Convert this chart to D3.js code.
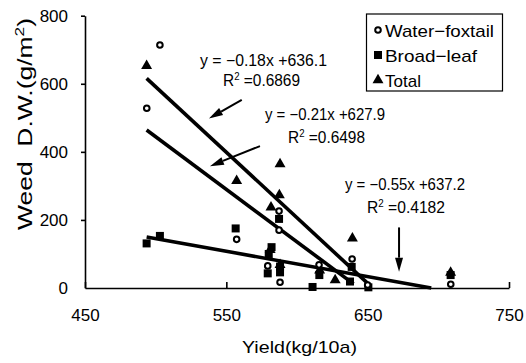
<!DOCTYPE html>
<html>
<head>
<meta charset="utf-8">
<script src="https://cdn.jsdelivr.net/npm/d3@7"></script>
<style>
  body { margin: 0; background: #fff; }
  svg { display: block; font-family: "Liberation Sans", Arial, sans-serif; }
  .axis path, .axis line { stroke: #000; stroke-width: 1.6; }
  .axis text { font-size: 17px; fill: #000; }
</style>
</head>
<body>
<div id="chart"></div>
<script>
// yield (kg/10a) vs weed dry weight (g/m2)
const foxtailX = [503, 493.7, 557.3, 587.3, 587.3, 579.3, 588, 615.6, 639, 650, 708.8];
const foxtailY = [714, 528, 143, 226, 170, 65, 17, 68, 85, 9, 11];

const broadX = [493.6, 503, 556.6, 582, 580, 587.3, 588, 588, 579.3, 615.8, 611, 637.5, 650.5, 638.7, 708.7];
const broadY = [131, 153, 175, 120, 100, 203, 63, 46, 43, 38, 3, 19, 2, 62, 38];

const totalX = [493.6, 588, 557.3, 587.5, 581.6, 639.2, 627, 581, 616, 708.7, 588];
const totalY = [653, 364, 315, 273, 237, 146, 23, 112, 52, 45, 68];

// regression lines: [x start, x end], [y start, y end]
const lineTotalX = [493.6, 651];
const lineTotalY = [616, 10];
const lineFoxX = [493.6, 640];
const lineFoxY = [464, 12];
const lineBroadX = [493.6, 695];
const lineBroadY = [150, 0];

const xTicks = [450, 550, 650, 750];
const yTicks = [0, 200, 400, 600, 800];

const legendLabels = ['Water\u2212foxtail', 'Broad\u2212leaf', 'Total'];
const eqLabels = [
  ['y = \u22120.18x +636.1', '0.6869'],
  ['y = \u22120.21x +627.9', '0.6498'],
  ['y = \u22120.55x +637.2', '0.4182']
];

const W = 526, H = 363;
const svg = d3.select('#chart').append('svg')
  .attr('width', W).attr('height', H);

const x = d3.scaleLinear().domain([450, 750]).range([85, 509]);
const y = d3.scaleLinear().domain([0, 800]).range([288, 15.7]);

// axes
svg.append('g')
  .attr('class', 'axis')
  .attr('transform', 'translate(0,288)')
  .call(d3.axisBottom(x).tickValues(xTicks).tickSize(-6).tickPadding(21).tickSizeOuter(0))
  .call(g => g.selectAll('.tick text').attr('dy', '0.71em'));

svg.append('g')
  .attr('class', 'axis')
  .attr('transform', 'translate(85,0)')
  .call(d3.axisLeft(y).tickValues(yTicks).tickSize(4).tickPadding(13).tickSizeOuter(0))
  .call(g => g.select('.tick:first-of-type line').remove());

// axis titles
svg.append('text')
  .attr('x', 242).attr('y', 353)
  .attr('font-size', 17)
  .attr('textLength', 115).attr('lengthAdjust', 'spacingAndGlyphs')
  .text('Yield(kg/10a)');

const yt = svg.append('text')
  .attr('transform', 'translate(32,230) rotate(-90)')
  .attr('font-size', 20)
  .attr('textLength', 212).attr('lengthAdjust', 'spacingAndGlyphs');
yt.append('tspan').text('Weed\u00a0\u00a0D.W.(g/m');
yt.append('tspan').attr('dy', -8).attr('font-size', 13).text('2');
yt.append('tspan').attr('dy', 8).text(')');

// regression lines
const lines = [[lineTotalX, lineTotalY], [lineFoxX, lineFoxY], [lineBroadX, lineBroadY]];
lines.forEach(([lx, ly]) => {
  svg.append('line')
    .attr('x1', x(lx[0])).attr('y1', y(ly[0]))
    .attr('x2', x(lx[1])).attr('y2', y(ly[1]))
    .attr('stroke', '#000').attr('stroke-width', 3.6);
});

// markers
const tri = d3.symbol().type(d3.symbolTriangle).size(52);
function drawPoints(xs, ys, kind) {
  const pts = xs.map((v, i) => [v, ys[i]]);
  const g = svg.append('g');
  if (kind === 'circle') {
    g.selectAll('circle').data(pts).join('circle')
      .attr('cx', d => x(d[0])).attr('cy', d => y(d[1]))
      .attr('r', 2.8).attr('fill', '#fff').attr('stroke', '#000').attr('stroke-width', 2);
  } else if (kind === 'square') {
    g.selectAll('rect').data(pts).join('rect')
      .attr('x', d => x(d[0]) - 4).attr('y', d => y(d[1]) - 4)
      .attr('width', 8).attr('height', 8).attr('fill', '#000');
  } else {
    g.selectAll('path').data(pts).join('path')
      .attr('transform', d => `translate(${x(d[0])},${y(d[1])})`)
      .attr('d', tri).attr('fill', '#000');
  }
}
drawPoints(totalX, totalY, 'triangle');
drawPoints(broadX, broadY, 'square');
drawPoints(foxtailX, foxtailY, 'circle');

// arrows (data coords: from -> head)
const arrows = [
  [[560.9, 553], [537.7, 498]],
  [[573.8, 417], [538.4, 358]],
  [[672.2, 178], [672.2, 48]]
];
arrows.forEach(([a, b]) => {
  const x1 = x(a[0]), y1 = y(a[1]), x2 = x(b[0]), y2 = y(b[1]);
  const ang = Math.atan2(y2 - y1, x2 - x1);
  const len = 14, half = 4;
  const bx = x2 - len * Math.cos(ang), by = y2 - len * Math.sin(ang);
  svg.append('line')
    .attr('x1', x1).attr('y1', y1).attr('x2', bx).attr('y2', by)
    .attr('stroke', '#000').attr('stroke-width', 2);
  const px = -Math.sin(ang) * half, py = Math.cos(ang) * half;
  svg.append('path')
    .attr('d', `M${x2},${y2}L${bx + px},${by + py}L${bx - px},${by - py}Z`)
    .attr('fill', '#000');
});

// equations
const eqPos = [
  { x: 200, y: 66, rx: 223, ry: 86, w: 127, rw: 77 },
  { x: 265, y: 120, rx: 288, ry: 143, w: 120, rw: 77 },
  { x: 345, y: 190, rx: 367, ry: 213, w: 120, rw: 78 }
];
eqLabels.forEach((e, i) => {
  const p = eqPos[i];
  svg.append('text').attr('x', p.x).attr('y', p.y)
    .attr('font-size', 16)
    .attr('textLength', p.w).attr('lengthAdjust', 'spacingAndGlyphs')
    .text(e[0]);
  const r = svg.append('text').attr('x', p.rx).attr('y', p.ry)
    .attr('font-size', 16)
    .attr('textLength', p.rw).attr('lengthAdjust', 'spacingAndGlyphs');
  r.append('tspan').text('R');
  r.append('tspan').attr('dy', -6).attr('font-size', 10).text('2');
  r.append('tspan').attr('dy', 6).text(' =' + e[1]);
});

// legend
const lg = svg.append('g');
lg.append('rect')
  .attr('x', 366.5).attr('y', 14).attr('width', 136).attr('height', 77)
  .attr('fill', '#fff').attr('stroke', '#000').attr('stroke-width', 1.2);
const legendKinds = ['circle', 'square', 'triangle'];
legendLabels.forEach((lab, i) => {
  const cy = 30 + i * 25;
  const mx = 378;
  if (legendKinds[i] === 'circle') {
    lg.append('circle').attr('cx', mx).attr('cy', cy).attr('r', 2.8)
      .attr('fill', '#fff').attr('stroke', '#000').attr('stroke-width', 2);
  } else if (legendKinds[i] === 'square') {
    lg.append('rect').attr('x', mx - 4).attr('y', cy - 4).attr('width', 8).attr('height', 8);
  } else {
    lg.append('path').attr('transform', `translate(${mx},${cy})`).attr('d', tri);
  }
  const t = lg.append('text').attr('x', 385).attr('y', cy + 6.5)
    .attr('font-size', 17).text(lab);
  if (i === 0) t.attr('textLength', 109).attr('lengthAdjust', 'spacingAndGlyphs');
  if (i === 1) t.attr('textLength', 92).attr('lengthAdjust', 'spacingAndGlyphs');
});
</script>
</body>
</html>
